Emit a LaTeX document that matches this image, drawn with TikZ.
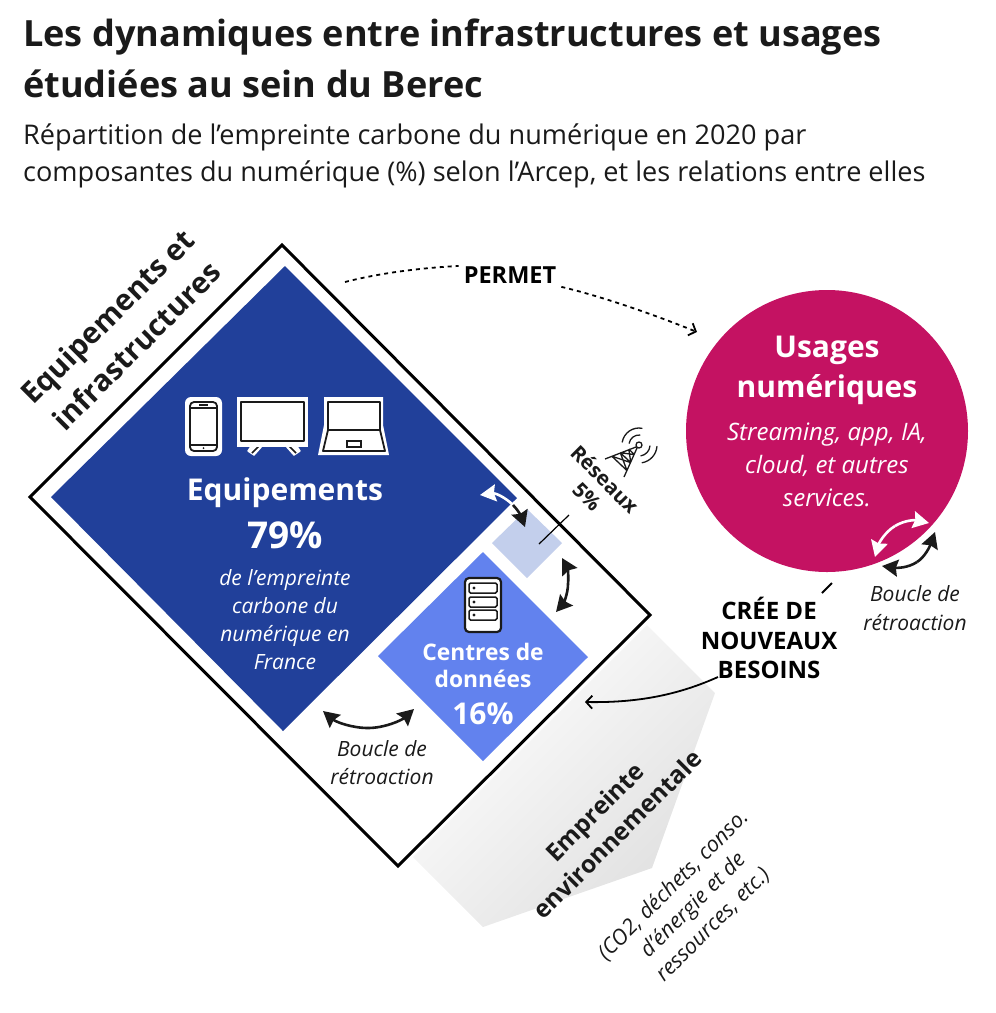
\documentclass[tikz,border=0pt]{standalone}
\usepackage{fontspec}
\setmainfont{Open Sans}
\usetikzlibrary{arrows.meta,calc,shadings}
\definecolor{ink}{HTML}{1A1A1A}
\definecolor{equipBlue}{HTML}{21409A}
\definecolor{dataBlue}{HTML}{6282EE}
\definecolor{netBlue}{HTML}{C3CFEC}
\definecolor{usageRed}{HTML}{C41262}
\definecolor{footGrey}{HTML}{E0E0E0}
\newcommand{\fs}[2]{\fontsize{#1}{#2}\selectfont}
\tikzset{>=Latex,
  txt/.style={text=ink,inner sep=0pt,align=center},
  loopink/.style={draw=ink,line width=2.6pt,-{Stealth[length=16pt,width=17pt,inset=2pt]}},
  loopwhite/.style={draw=white,line width=2.6pt,-{Stealth[length=16pt,width=17pt,inset=2pt]}},
  link/.style={draw=black,line width=1.8pt,-{Straight Barb[length=6pt,width=13pt]}},
  icon/.style={draw=ink,fill=white,line width=1.8pt,line join=round},
  halo/.style={draw=white,fill=white,line width=1.5pt,line join=round}}

\begin{document}
\begin{tikzpicture}[x=1pt,y=-1pt]
  \useasboundingbox (0,0) rectangle (996,1013);
  % en-tete
  \node[txt,anchor=north west,align=left,font=\bfseries\fs{36.1}{51}] (titre) at (23,19)
    {Les dynamiques entre infrastructures et usages\\étudiées au sein du Berec};
  \node[txt,anchor=north west,align=left,font=\fs{27.1}{37}] (soustitre) at (23,124)
    {Répartition de l’empreinte carbone du numérique en 2020 par\\composantes du numérique (\%) selon l’Arcep, et les relations entre elles};
  % empreinte
  \shade[top color=white,bottom color=footGrey,shading angle=45]
    (647,625)--(715,693)--(652,868)--(483,927)--(413,857)--cycle;
  % losanges
  \draw[black,line width=3pt,fill=white,miter limit=4] (282,245)--(650,615)--(398,866)--(30,497)--cycle;
  \fill[equipBlue] (285,266)--(517,498)--(283,731)--(51,497)--cycle;
  \fill[netBlue] (527,509)--(562,543)--(527,578)--(492,543)--cycle;
  \fill[dataBlue] (483,552)--(588,657)--(483,761)--(378,656)--cycle;
  % telephone
  \fill[rounded corners=6pt,white] (185,397) rectangle (222,456);
  \draw[icon,rounded corners=4pt] (190,402) rectangle (217,451);
  \draw[ink,line width=1.4pt] (190,408)--(217,408) (190,445)--(217,445) (199,405)--(208,405);
  \fill[ink] (203.5,448) circle (1pt);
  % ecran
  \draw[halo] (252,445)--(248,451)--(254,455)--(262,446)--cycle (296,445)--(300,451)--(294,455)--(286,446)--cycle;
  \draw[ink,line width=1.6pt] (261,444)--(252,453) (287,444)--(296,453);
  \fill[white] (237,397) rectangle (308,447);
  \draw[icon] (241,402) rectangle (304,441);
  % portable
  \fill[white] (324,397)--(383,397)--(383,425)--(389,455)--(318,455)--(324,425)--cycle;
  \draw[icon] (328,402) rectangle (380,430);
  \draw[icon] (328,430)--(380,430)--(385,451)--(323,451)--cycle;
  \draw[ink,line width=1.4pt] (347,441) rectangle (361,447);
  % serveur
  \draw[icon,line width=2.2pt,rounded corners=4pt] (465,578) rectangle (501,632);
  \foreach \ya in {583,597,610}{
    \draw[ink,line width=1.5pt,rounded corners=1.5pt] (469,\ya) rectangle (497,\ya+10);
    \fill[ink] (474,\ya+5) circle (1.6pt);
  }
  % antenne
  \coordinate (mat) at (639,445);
  \draw[ink,line width=1.3pt,line join=round] (mat) circle (3pt)
    (636,447)--(605,459) (637,448)--(624,477)
    (628.8,449.2)--(634.5,454.6) (620.3,452.7)--(630.8,462.6) (611.8,456.2)--(627,470.6)
    (628.8,449.2)--(630.8,462.6) (634.5,454.6)--(620.3,452.7)
    (620.3,452.7)--(627,470.6) (630.8,462.6)--(611.8,456.2);
  \draw[ink,line width=1.3pt,line cap=round] (mat) ++(-170:10) arc[start angle=-170,end angle=-85,radius=10]
    (mat) ++(-170:17) arc[start angle=-170,end angle=-80,radius=17]
    (mat) ++(5:11) arc[start angle=5,end angle=80,radius=11]
    (mat) ++(5:18) arc[start angle=5,end angle=80,radius=18];
  % usages
  \fill[usageRed] (827,431) circle (141);
  \node[txt,text=white,font=\bfseries\fs{30}{40}] (usages) at (827,370) {Usages\\numériques};
  \node[txt,text=white,font=\itshape\fs{24}{33}] (usagesdetail) at (827,465) {Streaming, app, IA,\\cloud, et autres\\services.};
  % textes losanges
  \node[txt,font=\bfseries\fs{29.5}{41},rotate=45] (infra) at (122,331) {Equipements et\\infrastructures};
  \node[txt,text=white,font=\bfseries\fs{30}{40}] (equip) at (285,493) {Equipements};
  \node[txt,text=white,font=\bfseries\fs{37}{40}] (equippct) at (285,535) {79\%};
  \node[txt,text=white,font=\itshape\fs{21}{28}] (equipdetail) at (285,620) {de l’empreinte\\carbone du\\numérique en\\France};
  \node[txt,text=white,font=\bfseries\fs{22.8}{27}] (centres) at (483,665) {Centres de\\données};
  \node[txt,text=white,font=\bfseries\fs{30}{34}] (centrespct) at (483,714) {16\%};
  \node[txt,font=\bfseries\fs{20.5}{25},rotate=-45] (reseaux) at (596,488) {Réseaux\\5\%};
  \coordinate (netbas) at (539,544);
  \coordinate (nethaut) at (569,515);
  \draw[black,line width=1.2pt] (netbas)--(nethaut);
  % boucles
  \node[txt,font=\itshape\fs{21}{28}] (boucleA) at (382,763) {Boucle de\\rétroaction};
  \node[txt,font=\itshape\fs{21}{29}] (boucleB) at (915,608) {Boucle de\\rétroaction};
  \coordinate (bmid) at (513,505);
  \draw[loopwhite] (bmid) .. controls (505,497) and (495,493) .. (480,495);
  \draw[loopink] (bmid) .. controls (518,510) and (521,516) .. (525,527);
  \coordinate (dmid) at (568,584);
  \draw[loopink] (dmid) .. controls (569,575) and (567,567) .. (562,558);
  \draw[loopink] (dmid) .. controls (568,594) and (563,604) .. (556,612);
  \coordinate (emid) at (368,728);
  \draw[loopink] (emid) .. controls (352,728) and (336,722) .. (323,711);
  \draw[loopink] (emid) .. controls (385,728) and (402,720) .. (414,709);
  \coordinate (fmid) at (895,526);
  \draw[loopwhite] (fmid) .. controls (905,520) and (915,520) .. (929,523);
  \draw[loopwhite] (fmid) .. controls (885,532) and (879,543) .. (875,557);
  \coordinate (gmid) at (917,562);
  \draw[loopink] (gmid) .. controls (925,557) and (930,546) .. (935,532);
  \draw[loopink] (gmid) .. controls (908,568) and (897,568) .. (882,566);
  % liens
  \node[txt,text=black,font=\bfseries\fs{23.5}{25},inner sep=5pt] (permet) at (510,275) {PERMET};
  \coordinate (permetdep) at (345,282);
  \coordinate (permetarr) at (697,332);
  \draw[black,line width=1.8pt,dash pattern=on 4pt off 4pt] (permetdep) .. controls (380,273) and (420,268) .. (permet.170);
  \draw[link,dash pattern=on 4pt off 4pt] (permet.-13) .. controls (600,296) and (650,313) .. (permetarr);
  \node[txt,text=black,font=\bfseries\fs{24}{29.5}] (besoins) at (769,638) {CRÉE DE\\NOUVEAUX\\BESOINS};
  \coordinate (besoinsh) at (832,583);
  \coordinate (besoinsb) at (822,593);
  \draw[black,line width=1.8pt] (besoinsh)--(besoinsb);
  \coordinate (besoinsdep) at (718,677);
  \coordinate (besoinsarr) at (585,702);
  \draw[link] (besoinsdep) .. controls (680,694) and (640,703) .. (besoinsarr);
  % empreinte textes
  \node[txt,font=\bfseries\fs{24.5}{32},rotate=45] (empreinte) at (606,823) {Empreinte\\environnementale};
  \node[txt,font=\itshape\fs{21.6}{28},rotate=45] (empreintedetail) at (693,905) {(CO2, déchets, conso.\\d’énergie et de\\ressources, etc.)};
\end{tikzpicture}
\end{document}
